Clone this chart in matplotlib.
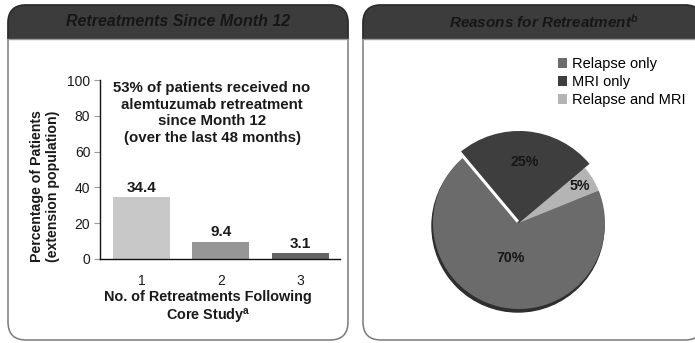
import numpy as np
import matplotlib
matplotlib.use('Agg')
import matplotlib.pyplot as plt
from matplotlib.patches import FancyBboxPatch, Rectangle, Patch

plt.rcParams['font.family'] = ['Liberation Sans', 'DejaVu Sans']
plt.rcParams['mathtext.fontset'] = 'custom'
plt.rcParams['mathtext.rm'] = 'Liberation Sans'
plt.rcParams['mathtext.bf'] = 'Liberation Sans:bold'
plt.rcParams['mathtext.it'] = 'Liberation Sans:italic:bold'

# retreatment counts (left panel)
retreat_n = ['1', '2', '3']
retreat_pct = [34.4, 9.4, 3.1]
bar_colors = ['#c8c8c8', '#969696', '#646464']

# reasons for retreatment (right panel)
reasons = ['Relapse only', 'MRI only', 'Relapse and MRI']
reason_pct = [70, 25, 5]
pie_colors = ['#6b6b6b', '#3e3e3e', '#b4b4b4']

W, H = 695, 343
fig = plt.figure(figsize=(W / 100, H / 100), dpi=100)

# background layer in pixel units for the two rounded panels
bg = fig.add_axes([0, 0, 1, 1], zorder=0)
bg.set_xlim(0, W)
bg.set_ylim(H, 0)
bg.axis('off')

def panel(x0, x1, y0=5, y1=340, head=39):
    box = FancyBboxPatch((x0, y0), x1 - x0, y1 - y0,
                         boxstyle='round,pad=0,rounding_size=18',
                         fc='white', ec='#7a7a7a', lw=1.1)
    bg.add_patch(box)
    hdr = FancyBboxPatch((x0, y0), x1 - x0, y1 - y0,
                         boxstyle='round,pad=0,rounding_size=18',
                         fc='#3c3c3c', ec='#2a2a2a', lw=1.1)
    bg.add_patch(hdr)
    clip = Rectangle((0, 0), W, head, transform=bg.transData)
    hdr.set_clip_path(clip)
    bg.plot([x0, x1], [head, head], color='#9a9a9a', lw=1.0)

panel(8, 348)
panel(363, 703)
bg.text(178, 22, 'Retreatments Since Month 12', ha='center', va='center',
        fontsize=11.5, fontweight='bold', style='italic', color='#161616')
bg.text(544, 22, r'Reasons for Retreatment$^{\mathit{b}}$', ha='center', va='center',
        fontsize=11, fontweight='bold', style='italic', color='#161616')

# bar chart
ax = fig.add_axes([100 / W, (H - 259) / H, 240 / W, 179 / H], zorder=2)
x = np.arange(1, len(retreat_pct) + 1)
ax.bar(x, retreat_pct, width=0.72, color=bar_colors)
for xi, v in zip(x, retreat_pct):
    ax.text(xi, v + 1.5, '%.1f' % v, ha='center', va='bottom',
            fontsize=11, fontweight='bold', color='#1a1a1a')
ax.set_xlim(0.48, 3.5)
ax.set_ylim(0, 100)
ax.set_yticks(range(0, 101, 20))
ax.set_xticks(x)
ax.set_xticklabels(retreat_n)
ax.tick_params(axis='x', length=0, pad=11, labelsize=10, colors='#1a1a1a')
ax.tick_params(axis='y', length=4, width=0.8, color='#999999', pad=3,
               labelsize=10, labelcolor='#1a1a1a')
for s in ['top', 'right']:
    ax.spines[s].set_visible(False)
for s in ['left', 'bottom']:
    ax.spines[s].set_linewidth(1.0)
    ax.spines[s].set_color('#111111')
ax.set_facecolor('none')

ax.text(1.89, 99.5, '53% of patients received no\nalemtuzumab retreatment\n'
        'since Month 12\n(over the last 48 months)',
        ha='center', va='top', fontsize=10.8, fontweight='bold',
        linespacing=1.24, color='#1a1a1a')

fig.text(45 / W, 1 - 186 / H, 'Percentage of Patients\n(extension population)',
         rotation=90, ha='center', va='center', fontsize=10.2,
         fontweight='bold', linespacing=1.1, color='#1a1a1a')
fig.text(208 / W, 1 - 308 / H, 'No. of Retreatments Following\n' + r'Core Study$^{\mathbf{a}}$',
         ha='center', va='center', fontsize=10.4, fontweight='bold',
         linespacing=1.25, color='#1a1a1a')

# pie chart
cx, cy, R = 519, 223, 86
side = 2.4 * R
pax = fig.add_axes([(cx - side / 2) / W, (H - cy - side / 2) / H, side / W, side / H], zorder=2)
shadow = plt.Circle((-0.012, -0.035), 1.0, color='#2e2e2e', zorder=0)
pax.add_patch(shadow)
wedges, _ = pax.pie(reason_pct, colors=pie_colors, startangle=22,
                    counterclock=False, radius=1.0,
                    wedgeprops=dict(linewidth=0))
wedges[1].set_radius(1.07)
# white separator where the MRI-only slice meets the relapse-only slice
th = np.deg2rad(wedges[1].theta2)
pax.plot([0.02 * np.cos(th), 1.1 * np.cos(th)], [0.02 * np.sin(th), 1.1 * np.sin(th)],
         color='white', lw=2.2, solid_capstyle='butt', zorder=5)
label_r = [0.42, 0.71, 0.83]
for w, v, r in zip(wedges, reason_pct, label_r):
    mid = np.deg2rad((w.theta1 + w.theta2) / 2)
    pax.text(r * np.cos(mid), r * np.sin(mid), '%d%%' % v, ha='center', va='center',
             fontsize=10.2, fontweight='bold', color='#161616', zorder=6)
pax.set_xlim(-1.2, 1.2)
pax.set_ylim(-1.2, 1.2)
pax.set_aspect('equal')
pax.axis('off')

handles = [Patch(facecolor=c, edgecolor='none') for c in pie_colors]
fig.legend(handles, reasons, loc='upper left', bbox_to_anchor=(558 / W, 1 - 57 / H),
           frameon=False, fontsize=10.5, handlelength=0.65, handleheight=0.65,
           handletextpad=0.3, labelspacing=0.28, borderaxespad=0, borderpad=0)

fig.savefig('out.png', dpi=100)
